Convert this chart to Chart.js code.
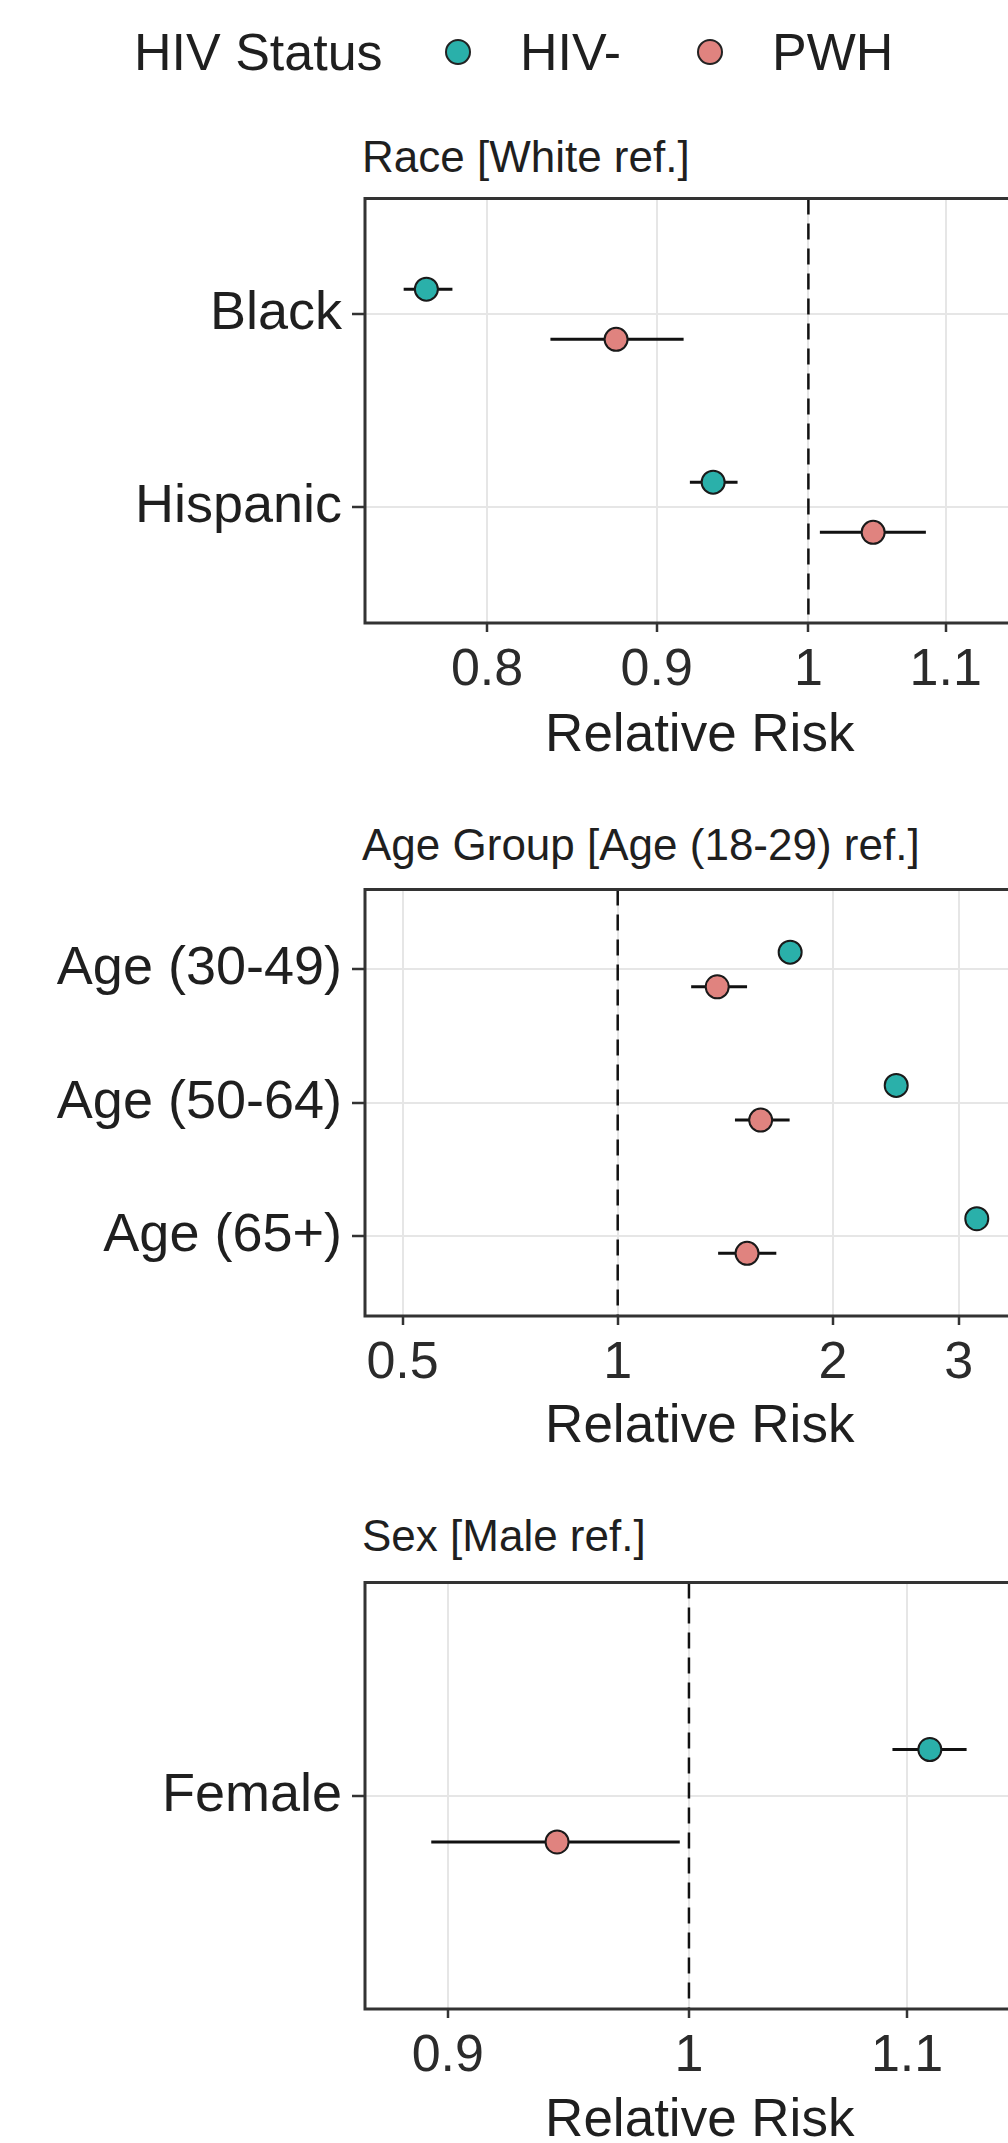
<!DOCTYPE html>
<html lang="en">
<head>
  <meta charset="UTF-8">
  <title>Relative Risk by HIV Status</title>
  <script src="https://cdn.jsdelivr.net/npm/chart.js"></script>
  <style>
    html, body { margin: 0; padding: 0; background: #fff; }
    body { position: relative; width: 1008px; height: 2143px; overflow: hidden; font-family: "Liberation Sans", Arial, sans-serif; color: #1f1f1f; }
    .txt { position: absolute; white-space: nowrap; line-height: 1; transform: translateY(-50%); }
    .dot { position: absolute; width: 22px; height: 22px; border: 2px solid #222; border-radius: 50%; transform: translate(-50%, -50%); }
    .panel { position: absolute; left: 0; width: 1048px; }
  </style>
</head>
<body>
  <div class="txt" style="left:134px; top:52px; font-size:52px;">HIV Status</div>
  <div class="dot" style="left:458px; top:52px; background:#2AB0AA;"></div>
  <div class="txt" style="left:520px; top:52px; font-size:52px;">HIV-</div>
  <div class="dot" style="left:710px; top:52px; background:#E0837F;"></div>
  <div class="txt" style="left:772px; top:52px; font-size:52px;">PWH</div>

  <div class="txt" style="left:362px; top:157px; font-size:44px;">Race [White ref.]</div>
  <div class="panel" style="top:185px; height:583px;"><canvas id="raceChart" width="1048" height="583"></canvas></div>

  <div class="txt" style="left:362px; top:845px; font-size:44px;">Age Group [Age (18-29) ref.]</div>
  <div class="panel" style="top:876px; height:583px;"><canvas id="ageChart" width="1048" height="583"></canvas></div>

  <div class="txt" style="left:362px; top:1536px; font-size:44px;">Sex [Male ref.]</div>
  <div class="panel" style="top:1569px; height:584px;"><canvas id="sexChart" width="1048" height="584"></canvas></div>

  <script>
    // Race panel
    const raceCats = ['Black', 'Hispanic'];
    const raceNeg = [0.767, 0.936];
    const raceNegLo = [0.755, 0.921];
    const raceNegHi = [0.781, 0.952];
    const racePwh = [0.875, 1.046];
    const racePwhLo = [0.836, 1.008];
    const racePwhHi = [0.917, 1.085];
    const raceTicks = [0.8, 0.9, 1, 1.1];

    // Age panel
    const ageCats = ['Age (30-49)', 'Age (50-64)', 'Age (65+)'];
    const ageNeg = [1.743, 2.453, 3.18];
    const ageNegLo = [1.70, 2.40, 3.10];
    const ageNegHi = [1.79, 2.51, 3.26];
    const agePwh = [1.378, 1.585, 1.517];
    const agePwhLo = [1.267, 1.459, 1.382];
    const agePwhHi = [1.517, 1.740, 1.667];
    const ageTicks = [0.5, 1, 2, 3];

    // Sex panel
    const sexCats = ['Female'];
    const sexNeg = [1.111];
    const sexNegLo = [1.093];
    const sexNegHi = [1.129];
    const sexPwh = [0.944];
    const sexPwhLo = [0.8935];
    const sexPwhHi = [0.996];
    const sexTicks = [0.9, 1, 1.1];

    const teal = '#2AB0AA';
    const pink = '#E0837F';
    const dodge = 0.13;

    Chart.defaults.font.family = '"Liberation Sans", Arial, sans-serif';

    const panelBox = {
      id: 'panelBox',
      afterDraw(chart) {
        const a = chart.chartArea, ctx = chart.ctx;
        ctx.save();
        ctx.strokeStyle = '#333';
        ctx.lineWidth = 3;
        ctx.strokeRect(a.left, a.top, a.right - a.left, a.bottom - a.top);
        ctx.restore();
      }
    };

    function pts(cats, vals, off) {
      return cats.map((c, i) => ({ x: vals[i], y: i + 1 + off }));
    }

    function bars(cats, lo, hi, off) {
      const out = [];
      cats.forEach((c, i) => {
        const y = i + 1 + off;
        out.push({ x: lo[i], y: y }, { x: hi[i], y: y }, { x: hi[i], y: null });
      });
      return out;
    }

    function makePanel(id, cats, neg, negLo, negHi, pwh, pwhLo, pwhHi, xMin, xMax, xTicks, xAxisH) {
      const yMax = cats.length + 0.6;
      new Chart(document.getElementById(id), {
        type: 'scatter',
        data: {
          datasets: [
            { label: 'HIV-', data: pts(cats, neg, -dodge), backgroundColor: teal, borderColor: '#1a1a1a',
              pointRadius: 11.5, borderWidth: 2, order: 0 },
            { label: 'PWH', data: pts(cats, pwh, dodge), backgroundColor: pink, borderColor: '#1a1a1a',
              pointRadius: 11.5, borderWidth: 2, order: 0 },
            { type: 'line', data: bars(cats, negLo, negHi, -dodge), borderColor: '#111', borderWidth: 3,
              pointRadius: 0, spanGaps: false, order: 1 },
            { type: 'line', data: bars(cats, pwhLo, pwhHi, dodge), borderColor: '#111', borderWidth: 3,
              pointRadius: 0, spanGaps: false, order: 1 },
            { type: 'line', data: [{ x: 1, y: 0.4 }, { x: 1, y: yMax }], borderColor: '#111', borderWidth: 2.5,
              borderDash: [16, 9], pointRadius: 0, order: 2 }
          ]
        },
        options: {
          responsive: false,
          animation: false,
          layout: { padding: { top: 12, right: 8, left: 0, bottom: 0 } },
          plugins: { legend: { display: false }, tooltip: { enabled: false } },
          scales: {
            x: {
              type: 'logarithmic',
              min: xMin,
              max: xMax,
              afterBuildTicks: s => { s.ticks = xTicks.map(v => ({ value: v })); },
              afterFit: s => { s.height = xAxisH; s.paddingLeft = 0; s.paddingRight = 0; },
              grid: { color: '#e6e6e6', lineWidth: 2, tickColor: '#333', tickWidth: 2.5, tickLength: 9 },
              border: { display: false },
              ticks: { callback: v => String(v), font: { size: 52, lineHeight: 1.2 }, color: '#2b2b2b',
                padding: 7, maxRotation: 0, autoSkip: false },
              title: { display: true, text: 'Relative Risk', font: { size: 53, lineHeight: 1.2 }, color: '#1f1f1f',
                padding: 0 }
            },
            y: {
              type: 'linear',
              reverse: true,
              min: 0.4,
              max: yMax,
              afterBuildTicks: s => { s.ticks = cats.map((c, i) => ({ value: i + 1 })); },
              afterFit: s => { s.width = 365; s.paddingTop = 0; s.paddingBottom = 0; },
              grid: { color: '#e6e6e6', lineWidth: 2, tickColor: '#333', tickWidth: 2.5, tickLength: 13 },
              border: { display: false },
              ticks: { callback: v => cats[v - 1], font: { size: 54 }, color: '#1f1f1f', padding: 10, autoSkip: false }
            }
          }
        },
        plugins: [panelBox]
      });
    }

    makePanel('raceChart', raceCats, raceNeg, raceNegLo, raceNegHi, racePwh, racePwhLo, racePwhHi, 0.735, 1.170, raceTicks, 145);
    makePanel('ageChart', ageCats, ageNeg, ageNegLo, ageNegHi, agePwh, agePwhLo, agePwhHi, 0.443, 3.83, ageTicks, 143);
    makePanel('sexChart', sexCats, sexNeg, sexNegLo, sexNegHi, sexPwh, sexPwhLo, sexPwhHi, 0.868, 1.163, sexTicks, 144);
  </script>
</body>
</html>
